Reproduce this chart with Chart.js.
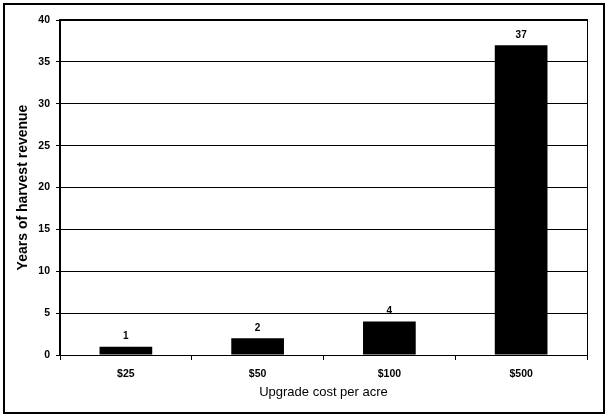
<!DOCTYPE html>
<html><head><meta charset="utf-8">
<script src="https://cdn.jsdelivr.net/npm/chart.js@4/dist/chart.umd.min.js"></script>
<style>html,body{margin:0;padding:0;background:#fff}#wrap{width:610px;height:417px}</style>
</head><body><div id="wrap"><canvas id="c" width="610" height="417"></canvas></div>
<script>
const categories = ["$25", "$50", "$100", "$500"];
const years = [1, 2, 4, 37];
const yTicks = [0, 5, 10, 15, 20, 25, 30, 35, 40];
const xTitle = "Upgrade cost per acre";
const yTitle = "Years of harvest revenue";

const FONT = "'Liberation Sans', Arial, sans-serif";

const frame = {
  id: 'frame',
  afterDraw(chart) {
    const {ctx, chartArea: a} = chart;
    ctx.save();
    ctx.strokeStyle = '#000';
    ctx.lineWidth = 1;
    ctx.strokeRect(Math.round(a.left) + 0.5 - 1, Math.round(a.top) + 0.5 - 1, Math.round(a.right - a.left) + 1, Math.round(a.bottom - a.top) + 1);
    ctx.lineWidth = 2;
    ctx.strokeRect(4, 4, 600, 409);
    ctx.restore();
  }
};
const labels = {
  id: 'labels',
  afterDatasetsDraw(chart) {
    const {ctx} = chart;
    const meta = chart.getDatasetMeta(0);
    ctx.save();
    ctx.fillStyle = '#000';
    ctx.font = 'bold 10px ' + FONT;
    ctx.textAlign = 'center';
    ctx.textBaseline = 'bottom';
    meta.data.forEach((bar, i) => {
      ctx.fillText(String(years[i]), bar.x, bar.y - 5);
    });
    ctx.restore();
  }
};

new Chart(document.getElementById('c'), {
  type: 'bar',
  data: {
    labels: categories,
    datasets: [{
      data: years,
      backgroundColor: '#000',
      borderWidth: 0,
      barPercentage: 0.4,
      categoryPercentage: 1.0
    }]
  },
  options: {
    responsive: false,
    animation: false,
    devicePixelRatio: 1,
    layout: { padding: { left: 0, right: 23, top: 20, bottom: 0 } },
    plugins: { legend: { display: false }, tooltip: { enabled: false } },
    scales: {
      x: {
        afterFit(s) { s.height = 62; },
        offset: true,
        grid: { display: true, drawOnChartArea: false, offset: true, color: '#000', tickLength: 5, tickColor: '#000' },
        border: { display: true, color: '#000', width: 1 },
        ticks: { color: '#000', font: { family: FONT, size: 10.5, weight: 'bold' }, padding: 8, maxRotation: 0 },
        title: { display: true, text: xTitle, color: '#000', font: { family: FONT, size: 13 }, padding: { top: 2, bottom: 17 } }
      },
      y: {
        afterFit(s) { s.width = 60; },
        min: 0, max: 40,
        afterBuildTicks(s) { s.ticks = yTicks.map(v => ({ value: v })); },
        grid: { color: '#000', tickLength: 4, tickColor: '#000' },
        border: { display: true, color: '#000', width: 1 },
        ticks: { color: '#000', font: { family: FONT, size: 10.5, weight: 'bold' }, padding: 6 },
        title: { display: true, text: yTitle, color: '#000', font: { family: FONT, size: 14, weight: 'bold' }, padding: { top: 15, bottom: 0 } }
      }
    }
  },
  plugins: [frame, labels]
});
</script></body></html>
